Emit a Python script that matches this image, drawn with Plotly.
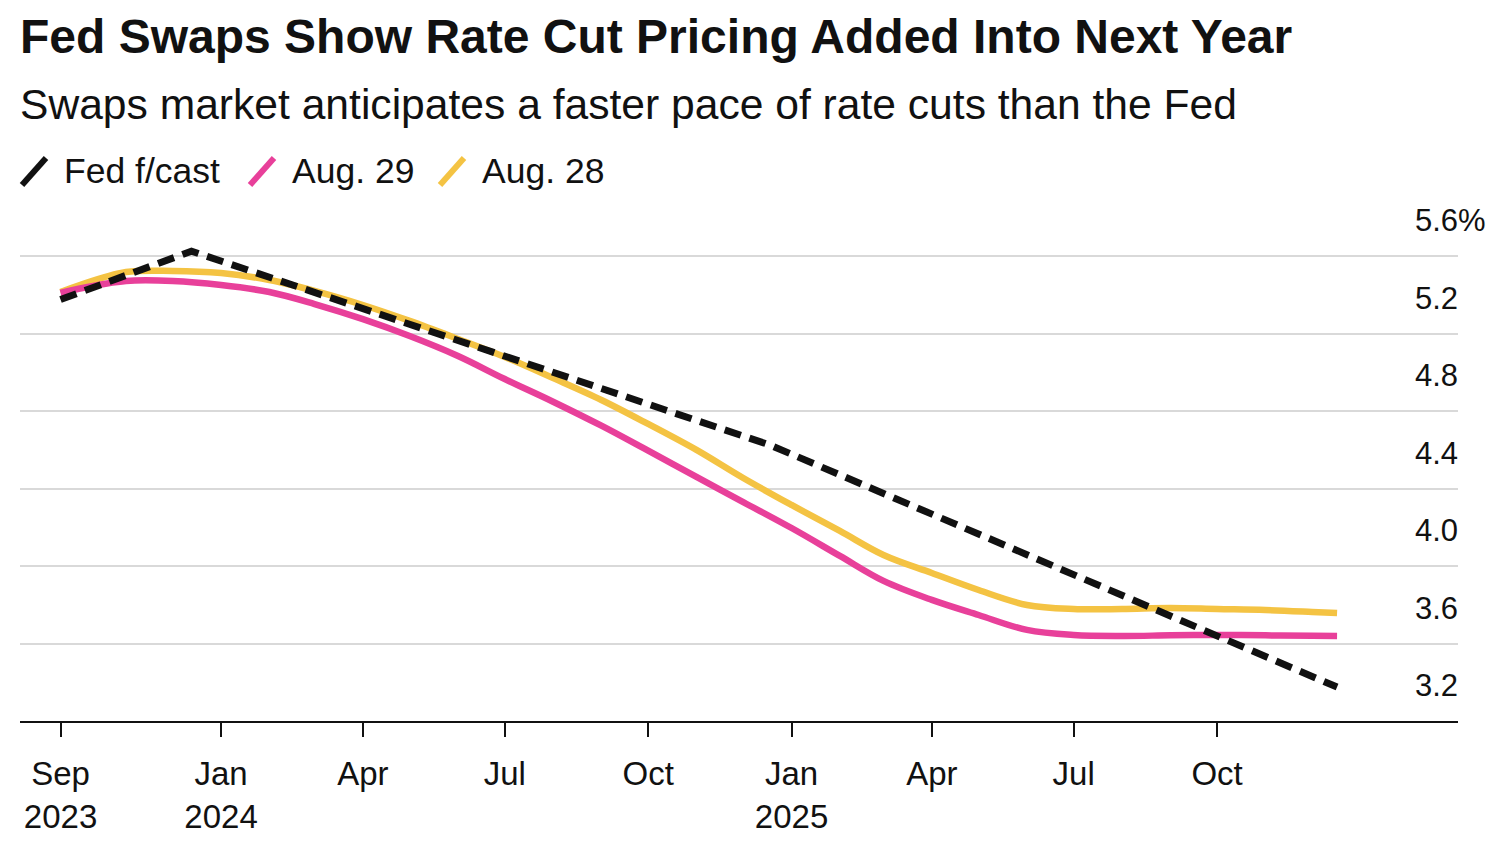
import plotly.graph_objects as go

# ---------------- data ----------------
swap_dates = [
    "2023-09-20", "2023-10-01", "2023-11-01", "2023-12-01",
    "2024-01-01", "2024-02-01", "2024-03-01", "2024-04-01", "2024-05-01", "2024-06-01",
    "2024-07-01", "2024-08-01", "2024-09-01", "2024-10-01", "2024-11-01", "2024-12-01",
    "2025-01-01", "2025-02-01", "2025-03-01", "2025-04-01", "2025-05-01", "2025-06-01",
    "2025-07-01", "2025-08-01", "2025-09-01", "2025-10-01", "2025-11-01", "2025-12-01",
    "2025-12-17",
]
aug28 = [
    5.414, 5.446, 5.517, 5.523,
    5.512, 5.476, 5.420, 5.347, 5.265, 5.172,
    5.079, 4.970, 4.857, 4.733, 4.599, 4.454,
    4.315, 4.181, 4.057, 3.964, 3.876, 3.799,
    3.778, 3.778, 3.783, 3.778, 3.773, 3.763,
    3.757,
]
aug29 = [
    5.409, 5.430, 5.471, 5.471,
    5.450, 5.414, 5.352, 5.274, 5.187, 5.084,
    4.965, 4.848, 4.724, 4.595, 4.460, 4.330,
    4.196, 4.052, 3.923, 3.825, 3.747, 3.670,
    3.644, 3.639, 3.642, 3.644, 3.642, 3.640,
    3.639,
]
fed_dates = ["2023-09-20", "2023-12-13", "2024-12-18", "2025-12-17"]
fed_fcast = [5.375, 5.625, 4.625, 3.375]

series_names = ["Fed f/cast", "Aug. 29", "Aug. 28"]
series_colors = ["#111111", "#e8409a", "#f4c343"]

x_tick_vals = ["2023-09-20", "2024-01-01", "2024-04-01", "2024-07-01", "2024-10-01",
               "2025-01-01", "2025-04-01", "2025-07-01", "2025-10-01"]
x_tick_text = ["Sep<br>2023", "Jan<br>2024", "Apr", "Jul", "Oct",
               "Jan<br>2025", "Apr", "Jul", "Oct"]
y_tick_vals = [3.2, 3.6, 4.0, 4.4, 4.8, 5.2, 5.6]
y_tick_text = ["3.2", "3.6", "4.0", "4.4", "4.8", "5.2", "5.6%"]

title_text = "Fed Swaps Show Rate Cut Pricing Added Into Next Year"
subtitle_text = "Swaps market anticipates a faster pace of rate cuts than the Fed"

# ---------------- figure ----------------
FONT = "Liberation Sans, Arial, Helvetica, sans-serif"
O = 8  # page body margin offset
W, H = 1500 - O, 850 - O
ML, MR, MT, MB = 20 - O, 42, 240 - O, 129
PW, PH = W - ML - MR, H - MT - MB


def px_x(px):
    return (px - O - ML) / PW


def px_y(py):
    return (H - MB - (py - O)) / PH


fig = go.Figure()
fig.add_trace(go.Scatter(x=swap_dates, y=aug28, mode="lines", name=series_names[2],
                         line=dict(color=series_colors[2], width=6.5, shape="spline", smoothing=1.0)))
fig.add_trace(go.Scatter(x=swap_dates, y=aug29, mode="lines", name=series_names[1],
                         line=dict(color=series_colors[1], width=6.5, shape="spline", smoothing=1.0)))
fig.add_trace(go.Scatter(x=fed_dates, y=fed_fcast, mode="lines", name=series_names[0],
                         line=dict(color=series_colors[0], width=7, dash="17px,9px")))

annotations = []
shapes = []

# title & subtitle
annotations.append(dict(text="<b>" + title_text + "</b>", xref="paper", yref="paper",
                        x=px_x(18), y=px_y(36), xanchor="left", yanchor="middle",
                        showarrow=False, font=dict(family=FONT, size=48, color="#111111")))
annotations.append(dict(text=subtitle_text, xref="paper", yref="paper",
                        x=px_x(18), y=px_y(104), xanchor="left", yanchor="middle",
                        showarrow=False, font=dict(family=FONT, size=42.6, color="#111111")))

# legend (slash glyph + label)
legend_slash_x = [22, 250, 440]
legend_text_x = [62, 290, 480]
for i in range(3):
    shapes.append(dict(type="line", xref="paper", yref="paper",
                       x0=px_x(legend_slash_x[i]), y0=px_y(185),
                       x1=px_x(legend_slash_x[i] + 24), y1=px_y(158),
                       line=dict(color=series_colors[i], width=6)))
    annotations.append(dict(text=series_names[i], xref="paper", yref="paper",
                            x=px_x(legend_text_x[i]), y=px_y(171), xanchor="left", yanchor="middle",
                            showarrow=False, font=dict(family=FONT, size=35.5, color="#111111")))

# y labels sit above their gridlines
for v, t in zip(y_tick_vals, y_tick_text):
    annotations.append(dict(text=t, xref="paper", yref="y", x=px_x(1413), y=v,
                            xanchor="left", yanchor="bottom", yshift=16, showarrow=False,
                            font=dict(family=FONT, size=31, color="#111111")))

fig.update_layout(
    width=W, height=H,
    margin=dict(l=ML, r=MR, t=MT, b=MB, pad=0),
    paper_bgcolor="white", plot_bgcolor="white",
    showlegend=False,
    annotations=annotations,
    shapes=shapes,
    xaxis=dict(type="date", range=["2023-08-25", "2026-03-04 14:00"],
               tickvals=x_tick_vals, ticktext=x_tick_text,
               ticks="outside", ticklen=14, tickwidth=2, tickcolor="#111111",
               showline=True, linecolor="#111111", linewidth=2,
               showgrid=False, zeroline=False, ticklabelstandoff=8,
               tickfont=dict(family=FONT, size=33, color="#111111")),
    yaxis=dict(range=[3.2, 5.6 + 16 / 193.75], tickvals=y_tick_vals[1:],
               showticklabels=False, ticks="", showgrid=True,
               gridcolor="#d9d9d9", gridwidth=2, zeroline=False, showline=False),
)

fig.write_html("out.html")
